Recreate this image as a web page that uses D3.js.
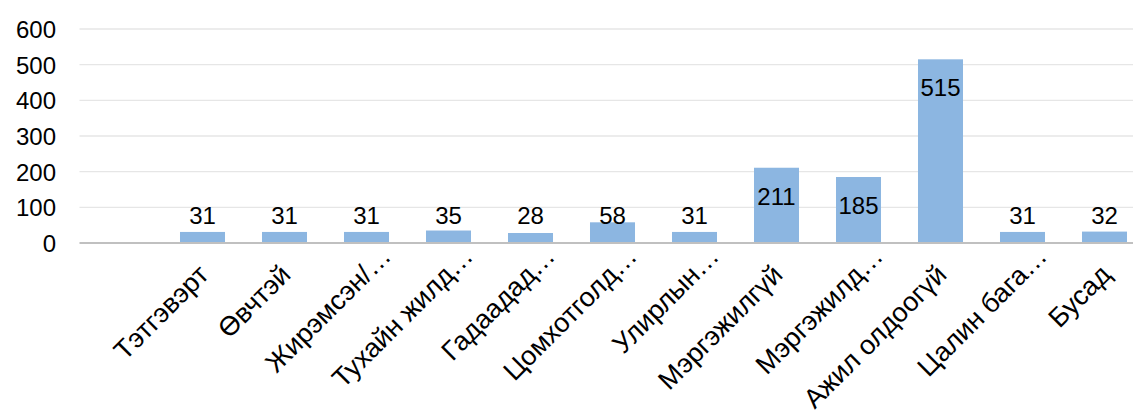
<!DOCTYPE html>
<html>
<head>
<meta charset="utf-8">
<script src="https://cdn.jsdelivr.net/npm/d3@7"></script>
<style>
  html, body { margin: 0; padding: 0; background: #fff; overflow: hidden; }
  svg { display: block; }
  text { font-family: "Liberation Sans", Arial, sans-serif; fill: #000; }
</style>
</head>
<body>
<svg id="chart" width="1133" height="412"></svg>
<script>
const categories = ["", "Тэтгэвэрт", "Өвчтэй", "Жирэмсэн/…", "Тухайн жилд…", "Гадаадад…",
  "Цомхотголд…", "Улирлын…", "Мэргэжилгүй", "Мэргэжилд…", "Ажил олдоогүй", "Цалин бага…", "Бусад"];
const values = [null, 31, 31, 31, 35, 28, 58, 31, 211, 185, 515, 31, 32];
const yTicks = [0, 100, 200, 300, 400, 500, 600];

const svg = d3.select("#chart");
const W = 1133, H = 412;
const plotLeft = 79.5, plotRight = 1145.5, yBase = 243, yTop = 29;
const fontSize = 24, catFontSize = 27;

const x = d3.scaleBand().domain(categories.map((c, i) => i))
  .range([plotLeft, plotRight]).paddingInner(0.451).paddingOuter(0.2255);
const y = d3.scaleLinear().domain([0, 600]).range([yBase, yTop]);

// gridlines
svg.append("g").selectAll("line").data(yTicks.filter(t => t > 0)).join("line")
  .attr("x1", plotLeft).attr("x2", W)
  .attr("y1", d => y(d)).attr("y2", d => y(d))
  .attr("stroke", "#e6e6e6").attr("stroke-width", 1.3);

// y tick labels
const yAxis = d3.axisLeft(y).tickValues(yTicks).tickSize(0).tickPadding(0);
const gy = svg.append("g").attr("transform", "translate(56,0)").call(yAxis);
gy.select(".domain").remove();
gy.selectAll("text").attr("font-size", fontSize).attr("font-family", "Liberation Sans, Arial, sans-serif")
  .attr("fill", "#000").attr("dy", "0.35em");

// bars
const data = categories.map((c, i) => ({ i, c, v: values[i] })).filter(d => d.v != null);
svg.append("g").selectAll("rect").data(data).join("rect")
  .attr("x", d => x(d.i)).attr("width", x.bandwidth())
  .attr("y", d => y(d.v)).attr("height", d => y(0) - y(d.v))
  .attr("fill", "#8cb6e1");

// x axis line
svg.append("line").attr("x1", plotLeft).attr("x2", W)
  .attr("y1", yBase).attr("y2", yBase)
  .attr("stroke", "#c0c0c0").attr("stroke-width", 2.2);

// data labels (inside end, clamped to inside base for short bars)
svg.append("g").selectAll("text").data(data).join("text")
  .attr("x", d => x(d.i) + x.bandwidth() / 2)
  .attr("y", d => Math.min(y(d.v) + 37, yBase - 18.7))
  .attr("text-anchor", "middle").attr("font-size", fontSize)
  .text(d => d.v);

// category labels
const gx = svg.append("g");
gx.selectAll("text").data(categories.map((c, i) => ({ c, i })).filter(d => d.c)).join("text")
  .attr("transform", d => `translate(${x(d.i) + x.bandwidth() / 2},${yBase}) rotate(-45)`)
  .attr("x", d => d.c.endsWith("…") ? 8 : -18)
  .attr("y", 29)
  .attr("text-anchor", "end").attr("font-size", catFontSize)
  .text(d => d.c);
</script>
</body>
</html>
